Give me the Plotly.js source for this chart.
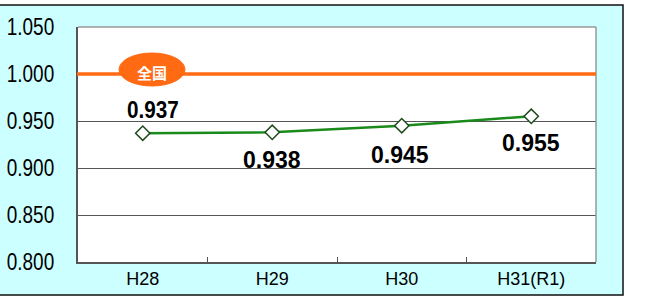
<!DOCTYPE html>
<html><head><meta charset="utf-8">
<script src="https://cdn.plot.ly/plotly-3.0.1.min.js"></script>
<style>html,body{margin:0;padding:0;background:#fff}#chart{width:645px;height:302px}</style>
</head><body><div id="chart"></div>
<script>
const categories = ['H28', 'H29', 'H30', 'H31(R1)'];
const values = [0.937, 0.938, 0.945, 0.955];
const labelText = ['0.937', '0.938', '0.945', '0.955'];
const nationalValue = 1.000;
const nationalLabel = '全国';
const yTickVals = [0.80, 0.85, 0.90, 0.95, 1.00, 1.05];
const yTickText = ['0.800', '0.850', '0.900', '0.950', '1.000', '1.050'];

const labelPos = [
  {yshift: 23, xshift: 10},
  {yshift: -28, xshift: 0},
  {yshift: -29, xshift: -2},
  {yshift: -27, xshift: 0}
];

const trace = {
  x: categories, y: values, type: 'scatter', mode: 'lines+markers',
  line: {color: '#1a8a1a', width: 2.5},
  marker: {symbol: 'diamond', size: 11, color: '#ffffff', line: {color: '#1e4a1e', width: 1.5}},
  hoverinfo: 'skip', cliponaxis: false
};

const annotations = values.map((v, i) => ({
  x: categories[i], y: v, xref: 'x', yref: 'y', text: labelText[i], showarrow: false,
  xanchor: 'center', yanchor: 'middle',
  yshift: labelPos[i].yshift, xshift: labelPos[i].xshift,
  font: {family: 'Liberation Sans, Arial', size: 23, color: '#000', weight: 'bold'}
}));
annotations.push({
  x: (152 - 78) / 518, y: nationalValue, xref: 'paper', yref: 'y', text: nationalLabel, showarrow: false,
  xanchor: 'center', yanchor: 'middle', yshift: 2,
  font: {family: 'Noto Sans CJK JP', size: 15, color: '#ffffff', weight: 'bold'}
});

const layout = {
  width: 645, height: 302,
  margin: {l: 78, r: 49, t: 27, b: 40, pad: 0},
  paper_bgcolor: '#ffffff', plot_bgcolor: '#ffffff',
  showlegend: false,
  xaxis: {
    type: 'category', range: [-0.5, 3.5], showline: true, linecolor: '#555', linewidth: 1.5, mirror: false,
    ticks: 'inside', tickson: 'boundaries', ticklen: 5, tickcolor: '#555',
    showgrid: false, zeroline: false, fixedrange: true,
    tickfont: {family: 'Liberation Sans, Arial', size: 18, color: '#000'}
  },
  yaxis: {
    range: [0.8, 1.05], tickvals: yTickVals, ticktext: yTickText,
    showline: true, linecolor: '#555', linewidth: 2,
    showgrid: true, gridcolor: '#555', gridwidth: 1, zeroline: false, ticks: '', ticklen: 0,
    ticklabelstandoff: 17,
    fixedrange: true,
    tickfont: {family: 'Liberation Sans, Arial', size: 24, color: '#000'}
  },
  shapes: [
    {type: 'rect', xref: 'paper', yref: 'paper', layer: 'below',
     x0: (-3 - 78) / 518, x1: (623 - 78) / 518, y0: (262 - 295) / 235, y1: (262 - 5) / 235,
     fillcolor: '#ccffff', line: {color: '#111', width: 1.5}},
    {type: 'rect', xref: 'paper', yref: 'paper', layer: 'below',
     x0: 0, x1: 1, y0: 0, y1: 1, fillcolor: '#ffffff', line: {width: 0}},
    {type: 'line', xref: 'paper', yref: 'paper', x0: 0, x1: 1, y0: 1, y1: 1, line: {color: '#999', width: 1.5}},
    {type: 'line', xref: 'paper', yref: 'paper', x0: 1, x1: 1, y0: 0, y1: 1, line: {color: '#999', width: 1.5}},
    {type: 'line', xref: 'paper', yref: 'y', x0: -1 / 518, x1: 1, y0: nationalValue, y1: nationalValue,
     line: {color: '#ff6a13', width: 3.5}},
    {type: 'circle', xref: 'paper', yref: 'paper',
     x0: (119 - 78) / 518, x1: (185 - 78) / 518, y0: (262 - 86) / 235, y1: (262 - 53) / 235,
     fillcolor: '#ff6a13', line: {color: '#ff6a13', width: 1}}
  ],
  annotations: annotations
};

function squeeze(selector, s) {
  document.querySelectorAll(selector).forEach(t => {
    const x = parseFloat(t.getAttribute('x')) || 0;
    const y = parseFloat(t.getAttribute('y')) || 0;
    const tr = t.getAttribute('transform') || '';
    t.setAttribute('transform', tr + ' translate(' + x + ',' + y + ') scale(' + s + ',1) translate(' + (-x) + ',' + (-y) + ')');
  });
}

Plotly.newPlot('chart', [trace], layout, {staticPlot: true, displayModeBar: false}).then(() => {
  squeeze('#chart .ytick text', 0.79);
  document.querySelectorAll('#chart .annotation-text').forEach((t, i) => {
    if (i < values.length) squeeze('#chart .annotation:nth-of-type(' + (i + 1) + ') .annotation-text', 0.9);
  });
});
</script></body></html>
